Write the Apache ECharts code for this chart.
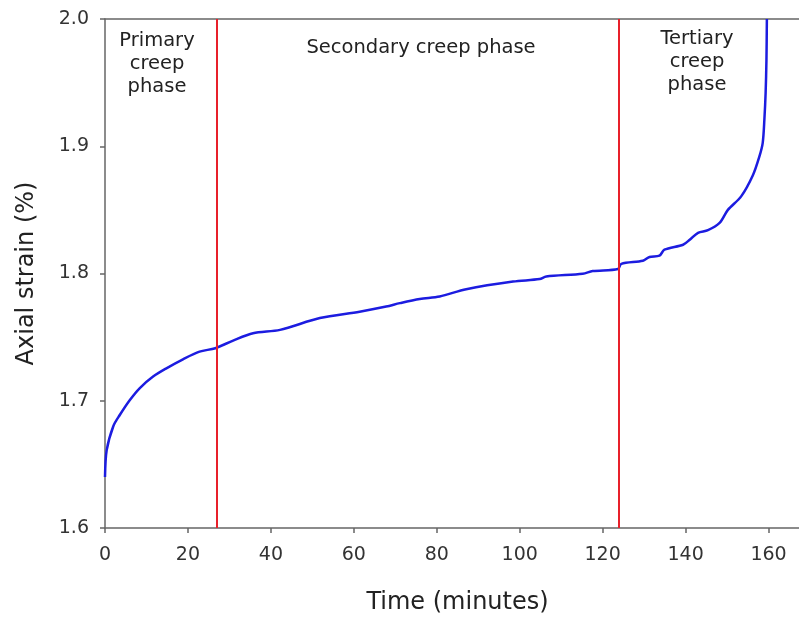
<!DOCTYPE html>
<html>
<head>
<meta charset="utf-8">
<script src="https://cdn.jsdelivr.net/npm/echarts@6/dist/echarts.min.js"></script>
<style>html,body{margin:0;padding:0;background:#fff}#c{width:799px;height:617px}</style>
</head>
<body>
<div id="c"></div>
<script>
const timeMin = [0, 0.4, 2.0, 3.6, 6.0, 8.4, 11.6, 14.8, 18.8, 22.8, 26.6, 30.9, 35.7, 42.2, 51.8, 61.4, 67.8, 71.1, 75.9, 80.7, 87.1, 98.4, 104.8, 106.4, 115.2, 117.6, 123.7, 124.5, 129.7, 131.3, 133.7, 134.9, 139.4, 141.0, 143.0, 145.4, 148.2, 150.2, 153.4, 156.2, 157.8, 158.6, 159.0, 159.3, 159.5, 159.6];
const strain = [1.640, 1.661, 1.680, 1.689, 1.7006, 1.710, 1.719, 1.7255, 1.7326, 1.7386, 1.7413, 1.7473, 1.753, 1.7557, 1.765, 1.770, 1.774, 1.7767, 1.780, 1.782, 1.7877, 1.7937, 1.7956, 1.7976, 1.7998, 1.8019, 1.8035, 1.8076, 1.810, 1.813, 1.814, 1.8187, 1.8226, 1.8265, 1.832, 1.834, 1.8397, 1.850, 1.8606, 1.877, 1.892, 1.9027, 1.921, 1.942, 1.968, 2.0];
const phaseBoundaries = [27, 124];
const phaseLabels = ["Primary\ncreep\nphase", "Secondary creep phase", "Tertiary\ncreep\nphase"];
const xTicks = [0, 20, 40, 60, 80, 100, 120, 140, 160];
const yTicks = [1.6, 1.7, 1.8, 1.9, 2.0];

const FONT = "DejaVu Sans";
const points = timeMin.map((t, i) => [t, strain[i]]);
const chart = echarts.init(document.getElementById('c'), null, {renderer: 'canvas'});
const labelFont = '19.5px "DejaVu Sans"';
chart.setOption({
  animation: false,
  backgroundColor: '#ffffff',
  grid: {left: 105, top: 19, width: 705, bottom: 89, containLabel: false, outerBoundsMode: 'none'},
  xAxis: [{
    type: 'value', min: 0, max: 170, interval: 20,
    name: 'Time (minutes)', nameLocation: 'middle', nameGap: 63,
    nameTextStyle: {fontFamily: FONT, fontSize: 24, color: '#222'},
    axisLine: {lineStyle: {color: '#666', width: 1.5}},
    axisTick: {show: true, length: 5, lineStyle: {color: '#666', width: 1.5}},
    axisLabel: {fontFamily: FONT, fontSize: 19, color: '#333', margin: 18, showMaxLabel: false,
      formatter: v => xTicks.includes(v) ? String(v) : ''},
    splitLine: {show: false}
  }, {
    type: 'value', position: 'top', min: 0, max: 170,
    axisLine: {show: true, lineStyle: {color: '#666', width: 1.5}},
    axisTick: {show: false}, axisLabel: {show: false}, splitLine: {show: false}
  }],
  yAxis: {
    type: 'value', min: 1.6, max: 2.0, interval: 0.1,
    name: 'Axial strain (%)', nameLocation: 'middle', nameGap: 66,
    nameTextStyle: {fontFamily: FONT, fontSize: 24, color: '#222'},
    axisLine: {show: true, lineStyle: {color: '#666', width: 1.5}},
    axisTick: {show: true, length: 5, lineStyle: {color: '#666', width: 1.5}},
    axisLabel: {fontFamily: FONT, fontSize: 19, color: '#333', margin: 16,
      formatter: v => yTicks.some(t => Math.abs(t - v) < 1e-9) ? v.toFixed(1) : ''},
    splitLine: {show: false}
  },
  series: [{
    type: 'line', data: points, showSymbol: false, smooth: 0.3,
    lineStyle: {color: '#1c1ce0', width: 2.5}, z: 3,
    markLine: {
      silent: true, symbol: 'none', label: {show: false},
      lineStyle: {color: '#e8202a', width: 2, type: 'solid'},
      data: phaseBoundaries.map(x => ({xAxis: x}))
    }
  }],
  graphic: [
    {type: 'text', x: 157, y: 29.5, style: {text: phaseLabels[0], font: labelFont, fill: '#222', align: 'center', verticalAlign: 'top', lineHeight: 23}},
    {type: 'text', x: 421, y: 36.5, style: {text: phaseLabels[1], font: labelFont, fill: '#222', align: 'center', verticalAlign: 'top', lineHeight: 23}},
    {type: 'text', x: 697, y: 27.5, style: {text: phaseLabels[2], font: labelFont, fill: '#222', align: 'center', verticalAlign: 'top', lineHeight: 23}}
  ]
});
</script>
</body>
</html>
